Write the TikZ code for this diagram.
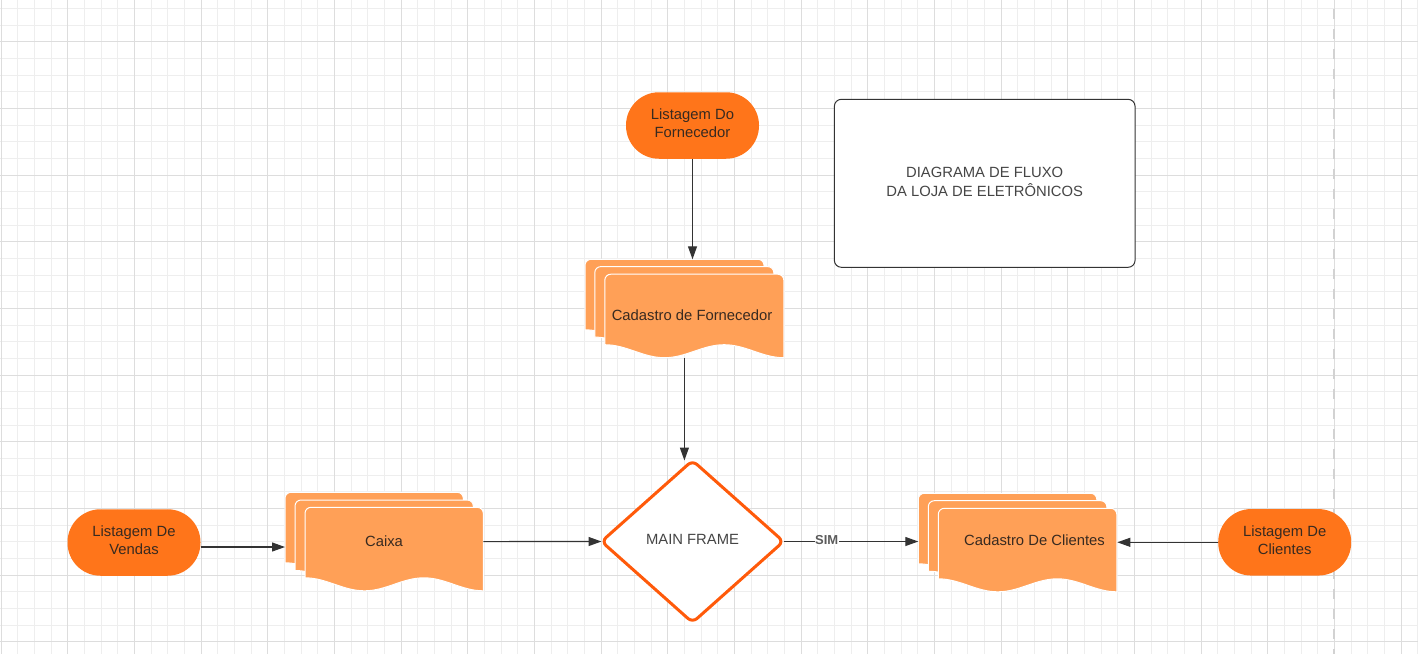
\documentclass[tikz,border=0pt]{standalone}
\usepackage{fontspec}
\setmainfont{Liberation Sans}
\usetikzlibrary{arrows.meta,shapes.geometric}
\definecolor{gridmin}{HTML}{EEEEEE}
\definecolor{gridmaj}{HTML}{DDDDDD}
\definecolor{orA}{HTML}{FF751A}
\definecolor{orB}{HTML}{FFA057}
\definecolor{orC}{HTML}{FF5A0A}
\definecolor{ink}{HTML}{333333}
\definecolor{brownink}{HTML}{382A20}
\definecolor{titleink}{HTML}{454545}
\definecolor{dashgray}{HTML}{D2D2D2}
\newcommand{\mainsize}{\fontsize{14.8}{18}\selectfont}
% document sheet: x0, y0 (top-left), width
\newcommand{\docsheet}[3]{%
  \path[sheetbox] (#1,#2+6) .. controls (#1,#2+2.7) and (#1+2.7,#2) .. (#1+6,#2)
    -- (#1+#3-6,#2) .. controls (#1+#3-2.7,#2) and (#1+#3,#2+2.7) .. (#1+#3,#2+6)
    -- (#1+#3,#2+83.5)
    .. controls (#1+#3-0.1214*#3,#2+83.5) and (#1+0.6667*#3+0.1214*#3,#2+70.5) .. (#1+0.6667*#3,#2+70.5)
    .. controls (#1+0.6667*#3-0.1214*#3,#2+70.5) and (#1+0.3333*#3+0.1214*#3,#2+83.5) .. (#1+0.3333*#3,#2+83.5)
    .. controls (#1+0.3333*#3-0.1214*#3,#2+83.5) and (#1+0.1214*#3,#2+70.5) .. (#1,#2+70.5)
    -- cycle;}
\tikzset{
  sheetbox/.style={fill=orB, draw=white, line width=1pt},
  stackbb/.style={rectangle, draw=none, inner sep=0pt, outer sep=0pt},
  stadium/.style={rectangle, rounded corners=33pt, fill=orA, draw=none,
    minimum width=133pt, minimum height=66.5pt, inner sep=0pt, outer sep=0pt,
    align=center, font=\mainsize, text=brownink, text depth=4.5pt},
  stacktext/.style={anchor=base, inner sep=0pt, font=\mainsize, text=brownink},
  decision/.style={diamond, draw=orC, fill=white, line width=3pt, rounded corners=6pt,
    minimum width=182pt, minimum height=162pt, inner sep=0pt, outer sep=0pt,
    font=\mainsize, text=titleink, text depth=4pt},
  titlebox/.style={rectangle, draw=ink, line width=1pt, rounded corners=7pt, fill=white,
    minimum width=300.7pt, minimum height=168pt, inner sep=0pt, outer sep=0pt,
    align=center, font=\fontsize{14.8}{18.4}\selectfont, text=titleink, text depth=2.6pt},
  conn/.style={draw=ink, line width=1.1pt, -{Triangle[length=13pt,width=9pt]}},
  simlbl/.style={fill=white, inner sep=0.5pt, font=\bfseries\fontsize{13}{13}\selectfont,
    text=ink!80, yshift=1.5pt},
  minorline/.style={draw=gridmin, line width=1pt},
  majorline/.style={draw=gridmaj, line width=1pt},
  dashline/.style={draw=dashgray, line width=2pt, dash pattern=on 10pt off 10pt, dash phase=11pt}
}
\begin{document}
\begin{tikzpicture}[x=1pt, y=-1pt]
\useasboundingbox (0,0) rectangle (1418,654);
\fill[white] (0,0) rectangle (1418,654);
% grid
\foreach \k in {0,...,85} \draw[minorline] ({1+16.6667*\k},0) -- ({1+16.6667*\k},654);
\foreach \k in {0,...,38} \draw[minorline] (0,{8.3333+16.6667*\k}) -- (1418,{8.3333+16.6667*\k});
\foreach \k in {0,...,21} \draw[majorline] ({1+66.6667*\k},0) -- ({1+66.6667*\k},654);
\foreach \k in {0,...,9} \draw[majorline] (0,{41.6667+66.6667*\k}) -- (1418,{41.6667+66.6667*\k});
\draw[dashline] (1334.3,0) -- (1334.3,654);

% stacks
\docsheet{585}{259.3}{179}
\docsheet{594.8}{266.6}{179}
\docsheet{604.8}{274.2}{179}
\node[stackbb, minimum width=199pt, minimum height=98.7pt] (cf) at (684.4,308.65) {};
\node[stacktext] (cft) at (692,320.7) {Cadastro de Fornecedor};

\docsheet{285}{492.3}{178.3}
\docsheet{295}{500}{178.3}
\docsheet{305}{507.3}{178.3}
\node[stackbb, minimum width=198.3pt, minimum height=98.5pt] (ck) at (384.15,541.55) {};
\node[stacktext] (ckt) at (384,546.3) {Caixa};

\docsheet{918.3}{493.3}{178.5}
\docsheet{928.3}{500.7}{178.5}
\docsheet{938.3}{508.3}{178.5}
\node[stackbb, minimum width=199pt, minimum height=98.5pt] (cc) at (1017.8,542.55) {};
\node[stacktext] (cct) at (1034.5,545.7) {Cadastro De Clientes};

% terminals
\node[stadium] (lf) at (692.5,125.5) {Listagem Do\\Fornecedor};
\node[stadium] (lv) at (134,542.5) {Listagem De\\Vendas};
\node[stadium] (lc) at (1284.7,542.3) {Listagem De\\Clientes};

% decision
\node[decision] (mf) at (692.5,541.5) {MAIN FRAME};

% title
\node[titlebox] (tb) at (984.7,183.3) {DIAGRAMA DE FLUXO\\DA LOJA DE ELETRÔNICOS};

% connectors
\draw[conn] (lf.south) -- (lf.south |- cf.north);
\draw[conn] (cf.south) -- (cf.south |- mf.north);
\draw[conn] ([yshift=-4.5pt]lv.east) -- ([yshift=-4.5pt]lv.east -| ck.west);
\draw[conn] (ck.east) -- (mf.west);
\draw[conn] (mf.east) -- node[simlbl, pos=0.32] (sim) {SIM} (mf.east -| cc.west);
\draw[conn] (lc.west) -- (lc.west -| cc.east);
\end{tikzpicture}
\end{document}
